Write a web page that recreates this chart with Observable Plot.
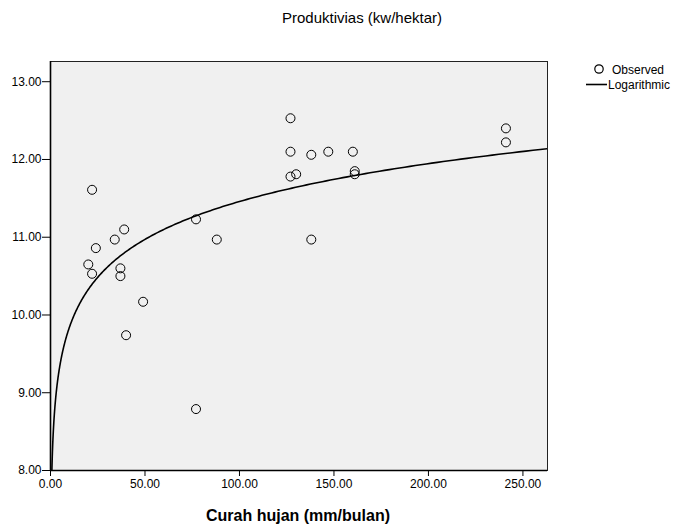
<!DOCTYPE html>
<html>
<head>
<meta charset="utf-8">
<script src="https://cdn.jsdelivr.net/npm/d3@7"></script>
<script src="https://cdn.jsdelivr.net/npm/@observablehq/plot@0.6"></script>
<style>
  html, body { margin: 0; padding: 0; background: white; }
</style>
</head>
<body>
<div id="chart"></div>
<script>
// Observed data: rainfall (mm/month) and productivity (kw/hectare)
const curahHujan = [22, 20, 22, 24, 34, 39, 37, 37, 49, 40, 77, 77, 88, 127, 127, 127, 130, 138, 138, 147, 160, 161, 161, 241, 241];
const produktivitas = [11.61, 10.65, 10.53, 10.86, 10.97, 11.10, 10.60, 10.50, 10.17, 9.74, 8.79, 11.23, 10.97, 12.53, 12.10, 11.78, 11.81, 12.06, 10.97, 12.10, 12.10, 11.85, 11.81, 12.40, 12.22];
const xTicks = [0, 50, 100, 150, 200, 250];
const yTicks = [8, 9, 10, 11, 12, 13];
const titleText = "Produktivias (kw/hektar)";
const xLabel = "Curah hujan (mm/bulan)";
const legendLabels = ["Observed", "Logarithmic"];

const observed = curahHujan.map((x, i) => ({x, y: produktivitas[i]}));

// Least-squares logarithmic fit y = a + b ln(x), as in the original (SPSS curve estimation)
const L = curahHujan.map(Math.log);
const mL = d3.mean(L), mY = d3.mean(produktivitas);
const b = d3.sum(L, (l, i) => (l - mL) * (produktivitas[i] - mY)) / d3.sum(L, l => (l - mL) ** 2);
const a = mY - b * mL;
const xDomain = [0, 263];
const yDomain = [8, 13.26];
const x0 = Math.exp((yDomain[0] - a) / b);
const fit = d3.range(0, 401).map(i => {
  const x = x0 * Math.pow(xDomain[1] / x0, i / 400);
  return {x, y: a + b * Math.log(x)};
});

const fmt = d => d.toFixed(2);
const font = "'Liberation Sans', Arial, sans-serif";

const chart = Plot.plot({
  width: 676,
  height: 525,
  marginLeft: 50,
  marginRight: 129,
  marginTop: 61,
  marginBottom: 55,
  style: {fontFamily: font, fontSize: "12px", background: "white", color: "#000"},
  x: {domain: xDomain},
  y: {domain: yDomain},
  marks: [
    Plot.frame({fill: "#f0f0f0", stroke: "#222", strokeWidth: 1}),
    Plot.axisX({ticks: xTicks, tickFormat: fmt, tickSize: 6, tickPadding: 3, label: null, fontSize: 12, stroke: "#000"}),
    Plot.axisY({ticks: yTicks, tickFormat: fmt, tickSize: 8, tickPadding: 1, label: null, fontSize: 12, stroke: "#000"}),
    Plot.ruleX([0], {stroke: "#000", strokeWidth: 1.6}),
    Plot.ruleY([8], {stroke: "#000", strokeWidth: 1.6}),
    Plot.line(fit, {x: "x", y: "y", stroke: "#000", strokeWidth: 1.6, clip: true}),
    Plot.dot(observed, {x: "x", y: "y", r: 4.5, stroke: "#000", strokeWidth: 1, fill: "none"})
  ]
});

const svg = d3.select(chart);
svg.append("text")
  .attr("x", 362).attr("y", 23)
  .attr("text-anchor", "middle")
  .attr("font-family", font).attr("font-size", 15)
  .attr("fill", "#000")
  .text(titleText);
svg.append("text")
  .attr("x", 298).attr("y", 521)
  .attr("text-anchor", "middle")
  .attr("font-family", font).attr("font-size", 16).attr("font-weight", "bold")
  .attr("fill", "#000")
  .text(xLabel);
// legend
svg.append("circle").attr("cx", 599).attr("cy", 69).attr("r", 4.2)
  .attr("fill", "none").attr("stroke", "#000").attr("stroke-width", 1.2);
svg.append("text").attr("x", 612).attr("y", 73.5)
  .attr("text-anchor", "start")
  .attr("font-family", font).attr("font-size", 12).attr("fill", "#000")
  .text(legendLabels[0]);
svg.append("line").attr("x1", 586).attr("x2", 607).attr("y1", 84.5).attr("y2", 84.5)
  .attr("stroke", "#000").attr("stroke-width", 1.6);
svg.append("text").attr("x", 608).attr("y", 89)
  .attr("text-anchor", "start")
  .attr("font-family", font).attr("font-size", 12).attr("fill", "#000")
  .text(legendLabels[1]);

document.getElementById("chart").appendChild(chart);
</script>
</body>
</html>
